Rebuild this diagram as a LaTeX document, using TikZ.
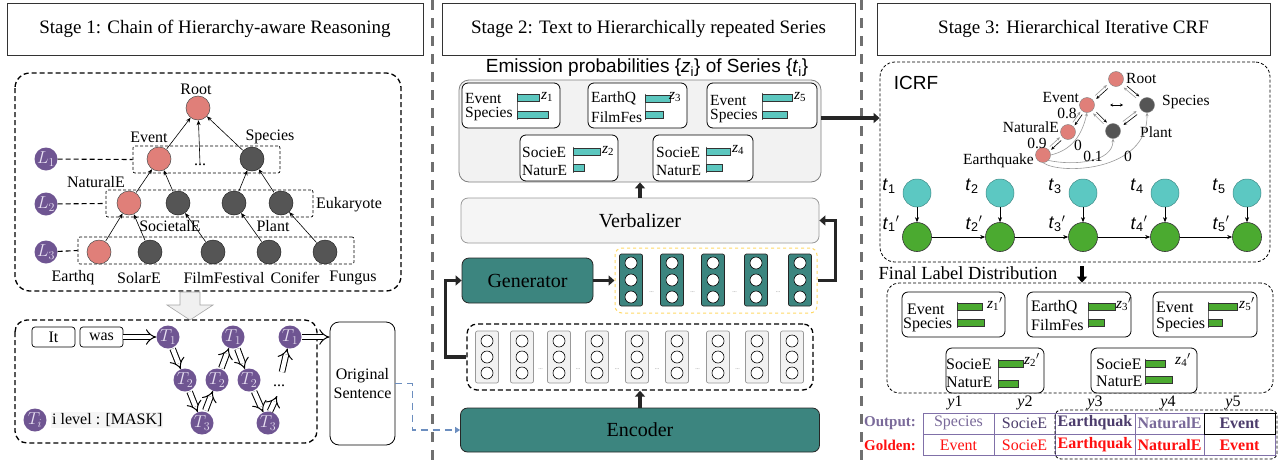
\documentclass[tikz,border=0pt]{standalone}
\usepackage{fontspec}
\setmainfont{Liberation Serif}
\newfontfamily\arialf{Liberation Sans}
\usetikzlibrary{arrows.meta,calc}
\definecolor{salmon}{HTML}{E07F79}
\definecolor{darkn}{HTML}{555555}
\definecolor{purp}{HTML}{6F5592}
\definecolor{lav}{HTML}{E8E0F2}
\definecolor{tealbox}{HTML}{3C857F}
\definecolor{tealbar}{HTML}{5CC7BF}
\definecolor{cyann}{HTML}{5CC8C2}
\definecolor{greenn}{HTML}{4BAA30}
\definecolor{divg}{HTML}{707070}
\definecolor{bluel}{HTML}{6C8EBF}
\definecolor{yelld}{HTML}{FFD966}
\definecolor{tabc}{HTML}{8070A8}
\definecolor{outp}{HTML}{7A6A9A}
\definecolor{outd}{HTML}{4C3C6C}
\definecolor{goldr}{HTML}{FF1010}
\newcommand{\myfs}[2]{\fontsize{#1}{#2}\selectfont}
\newcommand{\twobars}[6]{%
  \draw[line width=0.5pt, black!60] (#1,#2-1.5) -- (#1,#4+8.5);
  \draw[line width=0.6pt, draw=black!80, fill=#6] (#1,#2) rectangle (#3,#2+7);
  \draw[line width=0.6pt, draw=black!80, fill=#6] (#1,#4) rectangle (#5,#4+7);
}
\newcommand{\biedge}[2]{%
  \draw[-{Stealth[length=3.5pt,width=3pt]}, line width=0.6pt, black] ($(#1)!0.32!(#2)!1.6pt!90:(#2)$) -- ($(#1)!0.72!(#2)!1.6pt!90:(#2)$);
  \draw[-{Stealth[length=3.5pt,width=3pt]}, line width=0.6pt, black!40] ($(#2)!0.32!(#1)!1.6pt!90:(#1)$) -- ($(#2)!0.72!(#1)!1.6pt!90:(#1)$);
}
\begin{document}
\begin{tikzpicture}[x=1pt,y=-1pt,
  every node/.style={inner sep=1pt},
  titlebox/.style={draw=black!80, line width=0.8pt, font=\myfs{19}{22}, minimum height=52pt},
  tl/.style={font=\myfs{16}{18}},
  rn/.style={circle, fill=salmon, draw=black!70, line width=0.5pt, minimum size=24pt, inner sep=0pt},
  dn/.style={circle, fill=darkn, draw=black!85, line width=0.5pt, minimum size=24pt, inner sep=0pt},
  ln/.style={circle, fill=purp, minimum size=23pt, inner sep=0pt, text=lav, font=\myfs{17}{17}},
  tn/.style={circle, fill=purp, minimum size=23pt, inner sep=0pt, text=lav, font=\myfs{17}{17}},
  tedge/.style={-{Stealth[length=5pt,width=4pt]}, line width=0.6pt, shorten <=0.5pt},
  boxd/.style={draw, dashed, line width=1.3pt, dash pattern=on 5pt off 3pt, rounded corners=15pt},
  ldash/.style={draw, line width=0.7pt, dash pattern=on 3pt off 2pt, rounded corners=2pt},
  thind/.style={draw, line width=0.8pt, dash pattern=on 3pt off 2pt, rounded corners=15pt},
  hol/.style={double, double distance=4.5pt, line width=1pt, -{Implies}},
  thickarr/.style={line width=3.5pt, draw=black!85, -{Triangle[length=6pt,width=10pt]}},
  wordbox/.style={draw, line width=0.7pt, rounded corners=3pt, minimum height=20pt, font=\myfs{16}{16}},
  zbox/.style={draw=black, line width=0.8pt, rounded corners=6pt, fill=white},
  ztx/.style={anchor=west, inner sep=0pt, font=\myfs{15.5}{16}},
  zlb/.style={anchor=west, inner sep=0pt, font=\myfs{15.5}{16}},
  vcolt/.style={draw=black!85, fill=tealbox, rounded corners=2pt, minimum width=23pt, minimum height=52pt, line width=0.7pt},
  vcolg/.style={draw=black!40, fill=black!5, rounded corners=2pt, minimum width=23pt, minimum height=52pt, line width=0.7pt},
  wc/.style={circle, draw=black, fill=white, minimum size=12pt, inner sep=0pt, line width=0.6pt},
  mn/.style={circle, draw=black!50, line width=0.4pt, minimum size=15pt, inner sep=0pt},
  ml/.style={font=\myfs{15.5}{15.5}, inner sep=0pt},
  cn/.style={circle, fill=cyann, draw=cyann!70!black, line width=0.5pt, minimum size=28pt, inner sep=0pt},
  gn/.style={circle, fill=greenn, draw=black!80, line width=0.6pt, minimum size=29pt, inner sep=0pt},
  sarr/.style={-{Stealth[length=5pt,width=4pt]}, line width=0.6pt},
  cell/.style={font=\myfs{16}{16}, inner sep=0pt}
]
\fill[white] (0,0) rectangle (1281,461);
\useasboundingbox (0,0) rectangle (1281,461);

% dividers
\draw[divg, line width=3pt, dash pattern=on 10pt off 8pt] (432.5,0) -- (432.5,461);
\draw[divg, line width=3pt, dash pattern=on 10pt off 8pt] (861.5,0) -- (861.5,461);

% titles
\node[titlebox, minimum width=416pt] (t1) at (215,29) {Stage 1: Chain of Hierarchy-aware Reasoning};
\node[titlebox, minimum width=413pt] (t2) at (648.5,29) {Stage 2: Text to Hierarchically repeated Series};
\node[titlebox, minimum width=393pt] (t3) at (1073.5,29) {Stage 3: Hierarchical Iterative CRF};

%================ STAGE 1 ================
\draw[boxd] (15,73) rectangle (401,291);
\node[ldash, minimum width=147pt, minimum height=27pt] (b1) at (206.5,159.5) {};
\node[ldash, minimum width=207pt, minimum height=27pt] (b2) at (209.5,203.5) {};
\node[ldash, minimum width=276pt, minimum height=27pt] (b3) at (216,250.5) {};

\node[rn] (root) at (198,108) {};
\node[tl] (lroot) at (196,89) {Root};
\node[rn] (ev) at (159,159) {};
\node[tl] (lev) at (149,137) {Event};
\node[dn] (sp) at (252,159) {};
\node[tl] (lsp) at (270,137) {Species};
\node[tl, inner sep=0pt] (dots) at (200,165) {...};
\node[rn] (nat) at (129,203) {};
\node[dn] (soc) at (178,203) {};
\node[dn] (eu1) at (234,203) {};
\node[dn] (eu2) at (281,203) {};
\node[tl] (lnat) at (96,182) {NaturalE};
\node[tl] (leuk) at (349,205) {Eukaryote};
\node[tl] (lsoc) at (170,226) {SocietalE};
\node[tl] (lpl) at (273,226) {Plant};
\node[rn] (eq) at (99,252) {};
\node[dn] (so) at (150,252) {};
\node[dn] (ff) at (213,252) {};
\node[dn] (co) at (269,252) {};
\node[dn] (fu) at (325,252) {};
\node[tl] (leq) at (73,278) {Earthq};
\node[tl] (lso) at (139,278) {SolarE};
\node[tl] (lff) at (224,278) {FilmFestival};
\node[tl] (lco) at (295,278) {Conifer};
\node[tl] (lfu) at (353,278) {Fungus};

\draw[tedge] (ev) -- (root);
\draw[tedge] (dots.north) -- (root);
\draw[tedge] (sp) -- (root);
\draw[tedge] (nat) -- (ev);
\draw[tedge] (soc) -- (ev);
\draw[tedge] (eu1) -- (sp);
\draw[tedge] (eu2) -- (sp);
\draw[tedge] (eq) -- (nat);
\draw[tedge] (so) -- (nat);
\draw[tedge] (ff) -- (soc);
\draw[tedge] (co) -- (eu1);
\draw[tedge] (fu) -- (eu2);

\node[ln] (l1) at (46,159) {$L_1$};
\node[ln] (l2) at (46,204) {$L_2$};
\node[ln] (l3) at (46,252) {$L_3$};
\draw[line width=1.1pt, dash pattern=on 5pt off 3pt] (l1) -- (b1.west);
\draw[line width=1.1pt, dash pattern=on 5pt off 3pt] (l2) -- (b2.west);
\draw[line width=1.1pt, dash pattern=on 5pt off 3pt] (l3) -- (b3.west);

% big gray arrow
\draw[fill=gray!12, draw=gray!70, line width=0.6pt] (180,292) -- (200,292) -- (200,305) -- (213,305) -- (190,320) -- (167,305) -- (180,305) -- cycle;

% bottom box
\draw[boxd, rounded corners=12pt] (15,320) rectangle (317,443);
\node[wordbox, minimum width=43pt] (it) at (53.5,337) {It};
\node[wordbox, minimum width=43pt] (was) at (101.5,337) {was};
\node[tn] (ta1) at (168,337) {$T_1$};
\node[tn] (ta2) at (185,380) {$T_2$};
\node[tn] (ta3) at (202,423) {$T_3$};
\node[tn] (tb2) at (217,380) {$T_2$};
\node[tn] (tb1) at (233,337) {$T_1$};
\node[tn] (tc2) at (249,380) {$T_2$};
\node[tn] (tb3) at (268,423) {$T_3$};
\node[tn] (tc1) at (290,337) {$T_1$};
\node[tl] (tdots) at (279,386) {...};
\coordinate (fb) at (277,396);
\coordinate (fc) at (282,372);
\draw[hol] (was) -- (ta1);
\draw[hol, shorten <=1pt] (ta1) -- (ta2);
\draw[hol, shorten <=1pt] (ta2) -- (ta3);
\draw[hol, shorten <=1pt] ([xshift=3pt]ta3.north) -- (tb2);
\draw[hol, shorten <=1pt] (tb2) -- (tb1);
\draw[hol, shorten <=1pt] (tb1) -- (tc2);
\draw[hol, shorten <=1pt] (tc2) -- (tb3);
\draw[hol] ([xshift=2pt]tb3.north) -- (fb);
\draw[hol] (fc) -- (tc1);
\node[tn] (leg) at (35,420) {$T_i$};
\node[tl, anchor=west, fill=black!4, inner sep=1pt] (legt) at (51,420) {i level : [MASK]};

\node[draw, line width=0.8pt, rounded corners=9pt, minimum width=65pt, minimum height=123pt, align=center, font=\myfs{16}{19}] (orig) at (362.5,383.5) {Original\\Sentence};
\draw[hol] (tc1) -- (orig.west |- tc1);

%================ STAGE 2 ================
\node[font=\arialf\myfs{19}{19}] (emt) at (647,68) {Emission probabilities \{\textit{z}\textsubscript{i}\} of Series \{\textit{t}\textsubscript{i}\}};
\node[draw=black!50, fill=black!5, rounded corners=10pt, line width=0.8pt, minimum width=362pt, minimum height=102pt] (emis) at (640,131) {};

\node[zbox, minimum width=98pt, minimum height=45pt] (z1) at (511,105.5) {};
\node[zbox, minimum width=99pt, minimum height=45pt] (z3) at (637.5,105.5) {};
\node[zbox, minimum width=110pt, minimum height=45pt] (z5) at (762,105.5) {};
\node[zbox, minimum width=98pt, minimum height=46pt] (z2) at (569,158) {};
\node[zbox, minimum width=100pt, minimum height=46pt] (z4) at (703,158) {};

\node[ztx] (z1a) at (465,98) {Event};
\node[ztx] (z1b) at (465,114) {Species};
\twobars{517}{94}{539}{111}{548}{tealbar}
\node[zlb] (z1l) at (541,97) {\textit{z}\textsubscript{1}};
\node[ztx] (z3a) at (591,98) {EarthQ};
\node[ztx] (z3b) at (591,117) {FilmFes};
\twobars{645}{95}{670}{111}{663}{tealbar}
\node[zlb] (z3l) at (669,97) {\textit{z}\textsubscript{3}};
\node[ztx] (z5a) at (710,100) {Event};
\node[ztx] (z5b) at (710,116) {Species};
\twobars{762}{94}{792}{111}{787}{tealbar}
\node[zlb] (z5l) at (794,97) {\textit{z}\textsubscript{5}};
\node[ztx] (z2a) at (522,152) {SocieE};
\node[ztx] (z2b) at (522,170) {NaturE};
\twobars{573}{148}{600}{164}{584}{tealbar}
\node[zlb] (z2l) at (602,151) {\textit{z}\textsubscript{2}};
\node[ztx] (z4a) at (656,152) {SocieE};
\node[ztx] (z4b) at (656,170) {NaturE};
\twobars{706}{148}{730}{164}{722}{tealbar}
\node[zlb] (z4l) at (732,150) {\textit{z}\textsubscript{4}};

\node[draw=black!40, fill=black!4, rounded corners=7pt, line width=0.8pt, minimum width=358pt, minimum height=45pt, font=\myfs{20}{20}] (verb) at (640,220.5) {Verbalizer};
\draw[thickarr] (verb.north) -- (emis.south);

\node[draw=black!85, fill=tealbox, rounded corners=7pt, line width=0.8pt, minimum width=131pt, minimum height=45pt, font=\myfs{20}{20}] (gen) at (527.5,280.5) {Generator};
\node[draw=yelld, dashed, line width=1pt, rounded corners=7pt, minimum width=202pt, minimum height=65pt] (ybox) at (716,280.5) {};
\foreach \i/\x in {1/631,2/672,3/713,4/756,5/800} {
  \node[vcolt] (vt\i) at (\x,280) {};
  \node[wc] (vt\i a) at (\x,263) {};
  \node[wc] (vt\i b) at (\x,280) {};
  \node[wc] (vt\i c) at (\x,297) {};
}
\foreach \x in {651.5,692.5,734.5,778} \node[font=\myfs{6}{6}, text=black!50] at (\x,292) {...};
\draw[thickarr] (gen) -- (ybox);
\draw[thickarr] (ybox.east) -- ++(18,0) |- (verb.east);

\node[boxd, rounded corners=10pt, minimum width=346pt, minimum height=66pt] (encbox) at (640,357) {};
\foreach \i/\x in {1/487,2/522,3/559,4/597,5/637,6/677,7/718,8/757,9/792} {
  \node[vcolg] (vg\i) at (\x,357) {};
  \node[wc] (vg\i a) at (\x,341) {};
  \node[wc] (vg\i b) at (\x,357) {};
  \node[wc] (vg\i c) at (\x,373) {};
}
\foreach \x in {540.5,578,617,657,697.5,737.5} \node[font=\myfs{6}{6}, text=black!50] at (\x,369) {...};
\draw[thickarr] (encbox.west) -- ++(-21,0) |- (gen.west);

\node[draw=black!85, fill=tealbox, rounded corners=7pt, line width=0.8pt, minimum width=359pt, minimum height=44pt, font=\myfs{20}{20}] (enc) at (640,430) {Encoder};
\draw[thickarr] (enc.north) -- (encbox.south);

\draw[bluel, line width=1.8pt, dash pattern=on 7pt off 5pt, -{Triangle[length=5pt,width=6pt]}] (orig.east) -- ++(17,0) |- (enc.west);

%================ STAGE 3 ================
\node[thind, minimum width=390pt, minimum height=200pt] (icrf) at (1075,162) {};
\draw[thickarr] (emis.east |- 0,118) -- (icrf.west |- 0,118);
\node[font=\arialf\myfs{19}{19}] (icrfl) at (916,83) {ICRF};

\node[mn, fill=salmon] (mR) at (1116,79) {};
\node[mn, fill=salmon] (mE) at (1087,105) {};
\node[mn, fill=darkn] (mS) at (1147,105) {};
\node[mn, fill=salmon] (mN) at (1068,132) {};
\node[mn, fill=darkn] (mP) at (1113,131) {};
\node[mn, fill=salmon] (mQ) at (1043,155) {};
\node[ml, anchor=west] (mRl) at (1126,78) {Root};
\node[ml, anchor=east] (mEl) at (1079,97) {Event};
\node[ml, anchor=west] (mSl) at (1162,102) {Species};
\node[ml, anchor=east] (mNl) at (1059,127) {NaturalE};
\node[ml, anchor=west] (mPl) at (1140,132) {Plant};
\node[ml, anchor=east] (mQl) at (1034,161) {Earthquake};
\biedge{mR}{mE}
\biedge{mR}{mS}
\biedge{mE}{mN}
\biedge{mE}{mP}
\biedge{mS}{mP}
\biedge{mN}{mQ}
\coordinate (dl) at (1110,105);
\coordinate (dr) at (1123,105);
\draw[{Stealth[length=3pt,width=3pt]}-{Stealth[length=3pt,width=3pt]}, line width=0.6pt] (dl) -- (dr);
\draw[black!40, line width=0.6pt, -{Stealth[length=3.5pt,width=3pt]}] (mQ.east) .. controls (1072,150) and (1082,135) .. (mE.south);
\draw[black!40, line width=0.6pt, -{Stealth[length=3.5pt,width=3pt]}] (mQ.south east) .. controls (1075,166) and (1113,162) .. (mP.south);
\draw[black!40, line width=0.6pt, -{Stealth[length=3.5pt,width=3pt]}] (mQ.south) .. controls (1060,175) and (1148,172) .. (mS.south);
\node[ml] (w1) at (1067,113) {0.8};
\node[ml] (w2) at (1037,143) {0.9};
\node[ml] (w3) at (1078,145) {0};
\node[ml] (w4) at (1093,156) {0.1};
\node[ml] (w5) at (1128,156) {0};

\foreach \i/\x in {1/917,2/1000,3/1083,4/1165,5/1247} {
  \node[cn] (tt\i) at (\x,193) {};
  \node[gn] (gg\i) at (\x,237) {};
  \node[font=\arialf\myfs{18}{18}] (ttl\i) at (\x-28,186) {\textit{t}\textsubscript{\i}};
  \node[font=\arialf\myfs{18}{18}] (ggl\i) at (\x-26,224) {\textit{t}\textsubscript{\i}$'$};
  \draw[sarr] (tt\i) -- (gg\i);
}
\foreach \i/\j in {1/2,2/3,3/4,4/5} \draw[sarr] (gg\i) -- (gg\j);

\node[font=\myfs{18.5}{18.5}] (fld) at (968,273) {Final Label Distribution};
\coordinate (fa) at (1082,266);
\node[thind, rounded corners=12pt, minimum width=386pt, minimum height=110pt] (fbox) at (1080,338) {};
\draw[line width=3.5pt, -{Triangle[length=6pt,width=10pt]}] (fa) -- (fa |- fbox.north);

\node[zbox, minimum width=103pt, minimum height=45pt] (zp1) at (953.5,314.5) {};
\node[zbox, minimum width=104pt, minimum height=45pt] (zp3) at (1079,314.5) {};
\node[zbox, minimum width=104pt, minimum height=45pt] (zp5) at (1205,314.5) {};
\node[zbox, minimum width=98pt, minimum height=45pt] (zp2) at (995,370.5) {};
\node[zbox, minimum width=106pt, minimum height=45pt] (zp4) at (1144,370.5) {};

\node[ztx, font=\myfs{16}{16}] (zp1a) at (907,309) {Event};
\node[ztx, font=\myfs{16}{16}] (zp1b) at (903,325) {Species};
\twobars{957}{303}{982}{319}{984}{greenn}
\node[zlb] (zp1l) at (987,304) {\textit{z}\textsubscript{1}$'$};
\node[ztx, font=\myfs{16}{16}] (zp3a) at (1031,307) {EarthQ};
\node[ztx, font=\myfs{16}{16}] (zp3b) at (1031,325) {FilmFes};
\twobars{1088}{303}{1115}{319}{1104}{greenn}
\node[zlb] (zp3l) at (1116,304) {\textit{z}\textsubscript{3}$'$};
\node[ztx, font=\myfs{16}{16}] (zp5a) at (1156,307) {Event};
\node[ztx, font=\myfs{16}{16}] (zp5b) at (1156,325) {Species};
\twobars{1208}{303}{1237}{319}{1222}{greenn}
\node[zlb] (zp5l) at (1239,304) {\textit{z}\textsubscript{5}$'$};
\node[ztx, font=\myfs{16}{16}] (zp2a) at (946,364) {SocieE};
\node[ztx, font=\myfs{16}{16}] (zp2b) at (946,382) {NaturE};
\twobars{998}{360}{1023}{380}{1018}{greenn}
\node[zlb] (zp2l) at (1024,360) {\textit{z}\textsubscript{2}$'$};
\node[ztx, font=\myfs{16}{16}] (zp4a) at (1096,364) {SocieE};
\node[ztx, font=\myfs{16}{16}] (zp4b) at (1096,381) {NaturE};
\twobars{1145}{360}{1165}{376}{1172}{greenn}
\node[zlb] (zp4l) at (1175,360) {\textit{z}\textsubscript{4}$'$};

% table
\foreach \i/\x in {1/955,2/1025,3/1095,4/1168,5/1233} \node[cell] (yl\i) at (\x,403) {\textit{y}\i};
\draw[tabc, line width=0.8pt] (923,413) rectangle (1275,455);
\draw[tabc, line width=0.8pt] (923,434) -- (1275,434);
\foreach \x in {994,1055,1135,1204} \draw[tabc, line width=0.8pt] (\x,413) -- (\x,455);
\draw[black, line width=0.8pt] (1204,413) rectangle (1275,434);
\draw[line width=0.8pt, dash pattern=on 3pt off 2pt, rounded corners=6pt] (1055,410) rectangle (1277,459);
\node[cell, font=\bfseries\myfs{15}{15}, text=outp] (oh) at (890,423) {Output:};
\node[cell, font=\bfseries\myfs{15}{15}, text=goldr] (gh) at (890,445) {Golden:};
\node[cell, text=outp] (o1) at (958.5,423) {Species};
\node[cell, text=outd] (o2) at (1024.5,423) {SocieE};
\node[cell, font=\bfseries\myfs{16}{16}, text=outd] (o3) at (1095,423) {Earthquak};
\node[cell, font=\bfseries\myfs{16}{16}, text=outp] (o4) at (1169.5,423) {NaturalE};
\node[cell, font=\bfseries\myfs{16}{16}, text=outd] (o5) at (1239.5,423) {Event};
\node[cell, text=goldr] (g1) at (958.5,445) {Event};
\node[cell, text=goldr] (g2) at (1024.5,445) {SocieE};
\node[cell, font=\bfseries\myfs{16}{16}, text=goldr] (g3) at (1095,445) {Earthquak};
\node[cell, font=\bfseries\myfs{16}{16}, text=goldr] (g4) at (1169.5,445) {NaturalE};
\node[cell, font=\bfseries\myfs{16}{16}, text=goldr] (g5) at (1239.5,445) {Event};
\end{tikzpicture}
\end{document}
